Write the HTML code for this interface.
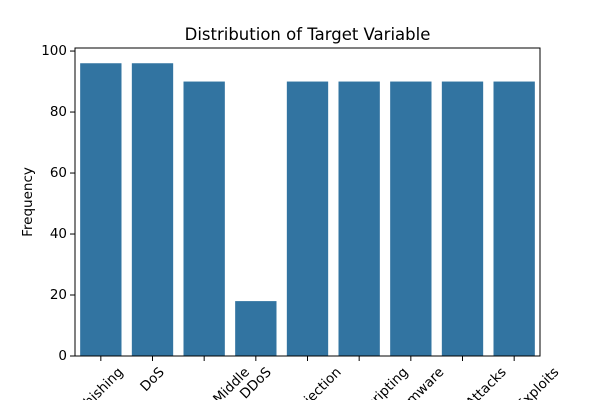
<!DOCTYPE html>
<html><head><meta charset="utf-8"><style>
html,body{margin:0;padding:0;background:#fff;width:600px;height:400px;overflow:hidden;}
svg{display:block;overflow:hidden;font-family:"DejaVu Sans","Liberation Sans",sans-serif;}
</style></head><body>
<svg id="chart" width="600" height="400" viewBox="0 0 600 400">
<rect width="600" height="400" fill="#fff"/>
<text x="307.5" y="40" text-anchor="middle" font-size="16.5" fill="#000">Distribution of Target Variable</text>
<text transform="translate(32,202) rotate(-90)" text-anchor="middle" font-size="13.5">Frequency</text>
<g id="bars"></g><g id="yticks"></g><g id="xticks"></g>
<rect x="75" y="48" width="465" height="308" fill="none" stroke="#000" stroke-width="1"/>
</svg>
<script>
const categories=["Phishing","DoS","Man-in-the-Middle","DDoS","SQL Injection","Cross-Site Scripting","Ransomware","Password Attacks","Zero-Day Exploits"];
const counts=[96,96,90,18,90,90,90,90,90];
const yTickLabels=[0,20,40,60,80,100];
const L=75,R=540,T=48,B=356,yMax=101;
const NS="http://www.w3.org/2000/svg";
const band=(R-L)/categories.length;
const x=i=>L+band*(i+0.5);
const y=v=>B-(v/yMax)*(B-T);
function mk(tag,attrs,parent){const e=document.createElementNS(NS,tag);for(const k in attrs)e.setAttribute(k,attrs[k]);parent.appendChild(e);return e;}
const gb=document.getElementById('bars'),gy=document.getElementById('yticks'),gx=document.getElementById('xticks');
categories.forEach((c,i)=>{
  const w=band*0.8;
  const r=mk('rect',{x:x(i)-w/2,y:y(counts[i]),width:w,height:B-y(counts[i]),fill:'#3274a1'},gb);
  
  
  const t=mk('line',{x1:x(i),x2:x(i),y1:B,y2:B+5,stroke:'#000'},gx);
  
  
  const lb=mk('text',{'text-anchor':'middle','dominant-baseline':'central','font-size':'13.5'},gx);
  lb.textContent=c;
  
  
  const tw=lb.getComputedTextLength(),h=14;
  const cy=B+9+(tw+h)*0.7071/2;
  lb.setAttribute('transform','translate('+x(i)+','+cy+') rotate(-45)');
});
yTickLabels.forEach(v=>{
  const t=mk('line',{x1:L-5,x2:L,y1:y(v),y2:y(v),stroke:'#000'},gy);
  
  
  const lb=mk('text',{x:L-8,y:y(v),'text-anchor':'end','dominant-baseline':'central','font-size':'13.5'},gy);
  lb.textContent=v;
  
  
});
</script>
</body></html>
